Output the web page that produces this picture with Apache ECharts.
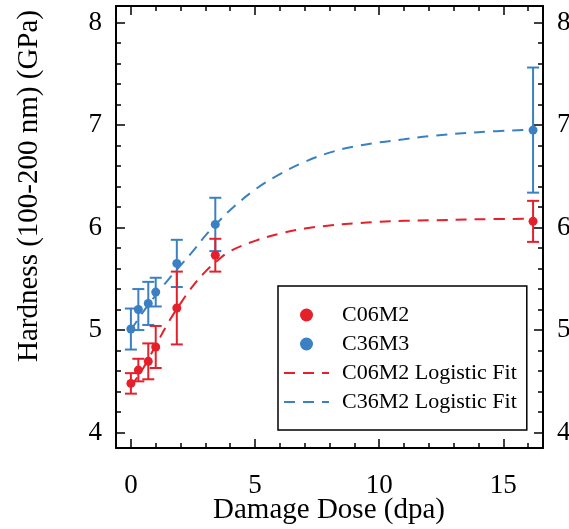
<!DOCTYPE html>
<html>
<head>
<meta charset="utf-8">
<script src="https://cdn.jsdelivr.net/npm/echarts@6/dist/echarts.min.js"></script>
<style>
  html, body { margin: 0; padding: 0; background: #fff; }
  #chart { width: 569px; height: 529px; }
</style>
</head>
<body>
<div id="chart"></div>
<script>
// Measured hardness vs. damage dose, with one-sigma error bars
const doseC06 = [0, 0.3, 0.7, 1.0, 1.85, 3.4, 16.2];
const hardC06 = [4.48, 4.61, 4.695, 4.835, 5.215, 5.73, 6.06];
const errC06  = [0.10, 0.11, 0.175, 0.205, 0.355, 0.16, 0.20];

const doseC36 = [0, 0.3, 0.7, 1.0, 1.85, 3.4, 16.2];
const hardC36 = [5.01, 5.20, 5.26, 5.37, 5.65, 6.03, 6.95];
const errC36  = [0.20, 0.20, 0.21, 0.14, 0.23, 0.26, 0.61];

// Logistic fit curves, sampled along the dose axis
const fitDose = [0, 0.5, 1, 1.5, 2, 2.5, 3, 3.5, 4, 5, 6, 7, 8, 9, 10, 11, 12, 14, 16.2];
const fitC06  = [4.45, 4.63, 4.85, 5.07, 5.26, 5.43, 5.57, 5.68, 5.77, 5.87, 5.94, 5.99, 6.02, 6.04, 6.055, 6.065, 6.07, 6.08, 6.085];
const fitC36  = [5.0, 5.18, 5.34, 5.49, 5.63, 5.77, 5.92, 6.05, 6.17, 6.37, 6.52, 6.64, 6.73, 6.79, 6.83, 6.86, 6.89, 6.93, 6.955];

// Axis ticks
const xMajor = [0, 5, 10, 15];
const xMinor = [1, 2, 3, 4, 6, 7, 8, 9, 11, 12, 13, 14, 16];
const yMajor = [4, 5, 6, 7, 8];
const yMinor = [4.2, 4.4, 4.6, 4.8, 5.2, 5.4, 5.6, 5.8, 6.2, 6.4, 6.6, 6.8, 7.2, 7.4, 7.6, 7.8];

const RED = '#e5202a';
const BLUE = '#3a80c2';
const FONT = '"Liberation Serif", "Times New Roman", serif';
const X_MIN = -0.6, X_MAX = 16.6, Y_MIN = 3.85, Y_MAX = 8.16;

const pts = (xs, ys) => xs.map((x, i) => [x, ys[i]]);
const bars = (xs, ys, es) => xs.map((x, i) => [x, ys[i] - es[i], ys[i] + es[i]]);

function errorBarItem(color) {
  return function (params, api) {
    const x = api.value(0);
    const lo = api.coord([x, api.value(1)]);
    const hi = api.coord([x, api.value(2)]);
    const hw = 6;
    const style = { stroke: color, lineWidth: 2 };
    return {
      type: 'group',
      children: [
        { type: 'line', shape: { x1: lo[0], y1: lo[1], x2: hi[0], y2: hi[1] }, style },
        { type: 'line', shape: { x1: lo[0] - hw, y1: lo[1], x2: lo[0] + hw, y2: lo[1] }, style },
        { type: 'line', shape: { x1: hi[0] - hw, y1: hi[1], x2: hi[0] + hw, y2: hi[1] }, style }
      ]
    };
  };
}

function xAxisDef(position, ticks, len, labels, showLine) {
  return {
    type: 'value', position, min: X_MIN, max: X_MAX,
    axisLine: { show: showLine, onZero: false, lineStyle: { color: '#000', width: 2 } },
    axisTick: { show: true, inside: true, length: len, customValues: ticks, lineStyle: { color: '#000', width: 1.5 } },
    axisLabel: labels ? { show: true, customValues: ticks, color: '#000', fontFamily: FONT, fontSize: 27, margin: 24 } : { show: false },
    splitLine: { show: false }
  };
}

function yAxisDef(position, ticks, len, labels, showLine) {
  return {
    type: 'value', position, min: Y_MIN, max: Y_MAX,
    axisLine: { show: showLine, onZero: false, lineStyle: { color: '#000', width: 2 } },
    axisTick: { show: true, inside: true, length: len, customValues: ticks, lineStyle: { color: '#000', width: 1.5 } },
    axisLabel: labels ? { show: true, customValues: ticks, color: '#000', fontFamily: FONT, fontSize: 27, margin: 14 } : { show: false },
    splitLine: { show: false }
  };
}

const xAxes = [
  xAxisDef('bottom', xMajor, 9, true, true),
  xAxisDef('bottom', xMinor, 5, false, false),
  xAxisDef('top', xMajor, 9, false, true),
  xAxisDef('top', xMinor, 5, false, false)
];
const yAxes = [
  yAxisDef('left', yMajor, 9, true, true),
  yAxisDef('left', yMinor, 5, false, false),
  yAxisDef('right', yMajor, 9, true, true),
  yAxisDef('right', yMinor, 5, false, false)
];

// Fit entries show only a dashed line in the legend
const fitLegendStyle = { color: 'transparent', borderWidth: 0, opacity: 0 };

const chart = echarts.init(document.getElementById('chart'), null, { renderer: 'canvas' });
chart.setOption({
  animation: false,
  backgroundColor: '#fff',
  grid: { left: 116, right: 26, top: 6, bottom: 81, containLabel: false, outerBoundsMode: 'none' },
  xAxis: xAxes,
  yAxis: yAxes,
  graphic: [
    {
      type: 'text', x: 29, y: 186, rotation: Math.PI / 2,
      style: {
        text: 'Hardness (100-200 nm) (GPa)', fill: '#000',
        font: '29px ' + FONT, textAlign: 'center', textVerticalAlign: 'middle'
      }
    },
    {
      type: 'text', x: 329, y: 510,
      style: {
        text: 'Damage Dose (dpa)', fill: '#000',
        font: '29px ' + FONT, textAlign: 'center', textVerticalAlign: 'middle'
      }
    }
  ],
  legend: {
    orient: 'vertical', left: 278, top: 286,
    padding: [18, 10, 17, 5],
    borderColor: '#000', borderWidth: 1.5,
    itemWidth: 45, itemHeight: 13, itemGap: 7,
    textStyle: { color: '#000', fontFamily: FONT, fontSize: 22, padding: [0, 0, 0, 8] },
    data: [
      'C06M2',
      'C36M3',
      { name: 'C06M2 Logistic Fit', itemStyle: fitLegendStyle },
      { name: 'C36M2 Logistic Fit', itemStyle: fitLegendStyle }
    ]
  },
  series: [
    {
      name: 'C06M2 Logistic Fit', type: 'line', data: pts(fitDose, fitC06),
      smooth: 0.4, symbol: 'none',
      lineStyle: { color: RED, width: 2, type: [11, 8] }, itemStyle: { color: RED }, z: 2
    },
    {
      name: 'C36M2 Logistic Fit', type: 'line', data: pts(fitDose, fitC36),
      smooth: 0.4, symbol: 'none',
      lineStyle: { color: BLUE, width: 2, type: [11, 8] }, itemStyle: { color: BLUE }, z: 2
    },
    {
      name: 'C36M3 error', type: 'custom', data: bars(doseC36, hardC36, errC36),
      renderItem: errorBarItem(BLUE), z: 3
    },
    {
      name: 'C06M2 error', type: 'custom', data: bars(doseC06, hardC06, errC06),
      renderItem: errorBarItem(RED), z: 3
    },
    {
      name: 'C36M3', type: 'scatter', data: pts(doseC36, hardC36),
      symbol: 'circle', symbolSize: 9, itemStyle: { color: BLUE, opacity: 1 }, z: 4
    },
    {
      name: 'C06M2', type: 'scatter', data: pts(doseC06, hardC06),
      symbol: 'circle', symbolSize: 9, itemStyle: { color: RED, opacity: 1 }, z: 4
    }
  ]
});
</script>
</body>
</html>
